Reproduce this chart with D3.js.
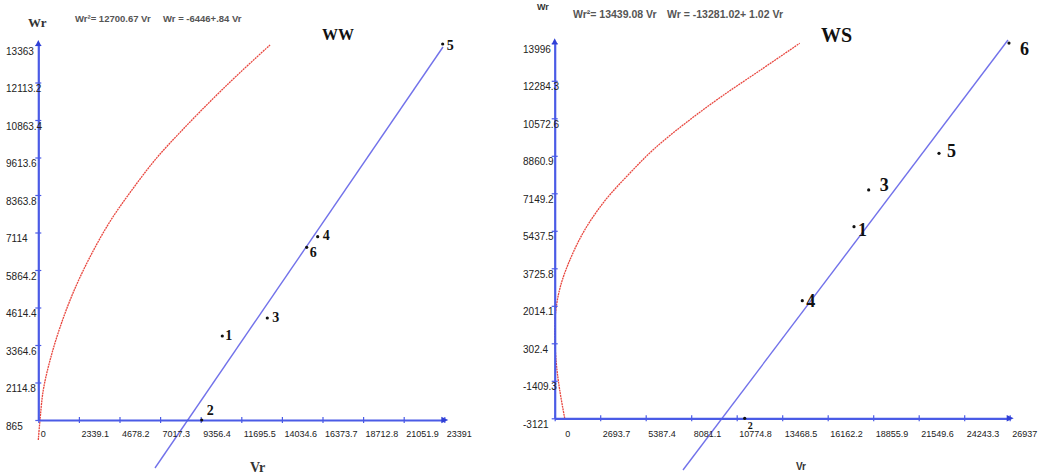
<!DOCTYPE html>
<html>
<head>
<meta charset="utf-8">
<script src="https://cdnjs.cloudflare.com/ajax/libs/d3/7.8.5/d3.min.js"></script>
<style>
    body { margin: 0; background: #fff; }
</style>
</head>
<body>
<div id="chart"></div>
<script>
// WW panel values
var wwXTicks = [0, 2339.1, 4678.2, 7017.3, 9356.4, 11695.5, 14034.6, 16373.7, 18712.8, 21051.9, 23391];
var wwYTicks = [865, 2114.8, 3364.6, 4614.4, 5864.2, 7114, 8363.8, 9613.6, 10863.4, 12113.2, 13363];
var wwPointIds = ["1", "2", "3", "4", "5", "6"];
var wwPointVr = [10601, 9414, 13193, 16097, 23298, 15463];
var wwPointWr = [3665, 865, 4264, 6974, 13396, 6621];
var wwCurve = [[0, 198], [98, 865], [288, 1865], [674, 2850], [1250, 3950], [2016, 5120], [2978, 6298],
    [4131, 7480], [5456, 8580], [6821, 9600], [8347, 10560], [9902, 11480], [11430, 12340], [13353, 13365]];
var wwFit = [[6723, -735], [23315, 13297]];
var wwEquations = ["Wr²= 12700.67 Vr", "Wr = -6446+.84 Vr"];

// WS panel values
var wsXTicks = [0, 2693.7, 5387.4, 8081.1, 10774.8, 13468.5, 16162.2, 18855.9, 21549.6, 24243.3, 26937];
var wsYTicks = [-3121, -1409.3, 302.4, 2014.1, 3725.8, 5437.5, 7149.2, 8860.9, 10572.6, 12284.3, 13996];
var wsPointIds = ["1", "2", "3", "4", "5", "6"];
var wsPointVr = [17719, 11248, 18589, 14658, 22751, 26895];
var wsPointWr = [5626, -3121, 7301, 2247, 8976, 14004];
var wsCurve = [[592, -3121], [296, -1829], [95, -611], [0, 909], [95, 1973], [391, 3041], [983, 4255],
    [1776, 5474], [2960, 6800], [4339, 7980], [5920, 9200], [7891, 10440], [9863, 11560], [12231, 12800], [14504, 13996]];
var wsFit = [[7595, -5481], [26835, 14148]];
var wsEquations = ["Wr²= 13439.08 Vr", "Wr = -13281.02+ 1.02 Vr"];

var drawPanels = (function () {
    const widthOfSvg = 1042;
    const heightOfSvg = 474;
    var axisColour = "#4a5be6";
    var fitColour = "#7272ea";
    var curveColour = "#e8473f";

    var panels = [
        {
            title: "WW", xTicks: wwXTicks, yTicks: wwYTicks, ids: wwPointIds, vr: wwPointVr, wr: wwPointWr,
            curve: wwCurve, fit: wwFit, equations: wwEquations,
            left: 38.3, right: 444.3, top: 45, bottom: 420, yLabelX: 6, xLabelDy: 17, zeroDx: 2,
            titleX: 322, titleY: 40, titleSize: 16,
            wrLabel: { x: 28, y: 27, size: 13, family: "'Liberation Serif', serif" },
            eqX: [75, 163], eqY: 22, eqSize: 9.5,
            vrLabel: { x: 250, y: 472, size: 14, family: "'Liberation Serif', serif" },
            ptSize: 14,
            offsets: { "1": [3, 4], "2": [5, -5], "3": [5, 4], "4": [5, 3], "5": [4, 6], "6": [3, 10] }
        },
        {
            title: "WS", xTicks: wsXTicks, yTicks: wsYTicks, ids: wsPointIds, vr: wsPointVr, wr: wsPointWr,
            curve: wsCurve, fit: wsFit, equations: wsEquations,
            left: 554.7, right: 1009.7, top: 43.3, bottom: 418.3, yLabelX: 523, xLabelDy: 19, zeroDx: 10,
            titleX: 821, titleY: 42, titleSize: 20,
            wrLabel: { x: 537, y: 10, size: 9, family: "'Liberation Sans', Arial, sans-serif" },
            eqX: [573, 667], eqY: 18, eqSize: 10.5,
            vrLabel: { x: 796, y: 470, size: 10, family: "'Liberation Sans', Arial, sans-serif" },
            ptSize: 18,
            offsets: { "1": [4, 9], "2": [3, 11], "3": [11, 1], "4": [4, 6], "5": [8, 4], "6": [11, 12] }
        }
    ];

    function drawPanel(svg, p) {
        var x = d3.scaleLinear()
            .domain([p.xTicks[0], p.xTicks[p.xTicks.length - 1]])
            .range([p.left, p.right]);
        var y = d3.scaleLinear()
            .domain([p.yTicks[0], p.yTicks[p.yTicks.length - 1]])
            .range([p.bottom, p.top]);

        var g = svg.append("g");

        // fitted curve, dotted red
        var line = d3.line()
            .x(function (d) { return x(d[0]) })
            .y(function (d) { return y(d[1]) })
            .curve(d3.curveCatmullRom.alpha(0.5));
        g.append("path")
            .datum(p.curve)
            .attr("d", line)
            .attr("fill", "none")
            .attr("stroke", curveColour)
            .attr("stroke-width", 1.3)
            .attr("stroke-dasharray", "2,0.7");

        // regression line
        g.append("line")
            .attr("x1", x(p.fit[0][0]))
            .attr("y1", y(p.fit[0][1]))
            .attr("x2", x(p.fit[1][0]))
            .attr("y2", y(p.fit[1][1]))
            .attr("stroke", fitColour)
            .attr("stroke-width", 1.4);

        var xAxis = g.append("g")
            .attr("transform", "translate(0," + p.bottom + ")")
            .call(d3.axisBottom(x).tickValues(p.xTicks).tickSizeOuter(0).tickSizeInner(3)
                .tickFormat(function (d) { return String(d) }));
        var yAxis = g.append("g")
            .attr("transform", "translate(" + p.left + ",0)")
            .call(d3.axisLeft(y).tickValues(p.yTicks).tickSizeOuter(0).tickSizeInner(3)
                .tickFormat(function (d) { return String(d) }));

        [xAxis, yAxis].forEach(function (a) {
            a.select(".domain").attr("stroke", axisColour).attr("stroke-width", 2.2);
            a.selectAll(".tick line").attr("stroke", axisColour).attr("stroke-width", 1.2);
            a.selectAll(".tick text")
                .attr("fill", "#222")
                .style("font-family", "'Liberation Sans', Arial, sans-serif")
                .attr("text-anchor", "start")
                .attr("dy", 0);
        });
        xAxis.selectAll(".tick line").attr("y1", -3).attr("y2", 3);
        xAxis.selectAll(".tick text")
            .style("font-size", "9px")
            .attr("x", function (d) { return d === 0 ? p.zeroDx : 2 })
            .attr("y", p.xLabelDy);
        yAxis.selectAll(".tick line").attr("x1", -3).attr("x2", 3);
        yAxis.selectAll(".tick text")
            .style("font-size", "10px")
            .attr("x", p.yLabelX - p.left)
            .attr("y", 9);

        // arrow heads
        var ax = p.right + 4, ay = p.top - 5;
        g.append("path")
            .attr("d", "M" + ax + "," + p.bottom + "L" + (ax - 7) + "," + (p.bottom - 3.2) + "L" + (ax - 7) + "," + (p.bottom + 3.2) + "Z")
            .attr("fill", "#2f3fd6");
        g.append("path")
            .attr("d", "M" + p.left + "," + ay + "L" + (p.left - 3) + "," + (ay + 6) + "L" + (p.left + 3) + "," + (ay + 6) + "Z")
            .attr("fill", "#2f3fd6");

        // data points
        var pts = p.ids.map(function (id, i) { return { id: id, vr: p.vr[i], wr: p.wr[i] } });
        g.selectAll("circle.pt")
            .data(pts)
            .enter()
            .append("circle")
            .attr("class", "pt")
            .attr("cx", function (d) { return x(d.vr) })
            .attr("cy", function (d) { return y(d.wr) })
            .attr("r", 1.6)
            .attr("fill", "#111");
        g.selectAll("text.pt")
            .data(pts)
            .enter()
            .append("text")
            .attr("class", "pt")
            .attr("x", function (d) { return x(d.vr) + p.offsets[d.id][0] })
            .attr("y", function (d) { return y(d.wr) + p.offsets[d.id][1] })
            .style("font-family", "'Liberation Serif', 'Times New Roman', serif")
            .style("font-weight", "bold")
            .style("font-size", function (d) { return (p.title === "WS" && d.id === "2" ? 10 : p.ptSize) + "px" })
            .attr("fill", "#111")
            .text(function (d) { return d.id });

        // texts
        g.append("text")
            .attr("x", p.titleX)
            .attr("y", p.titleY)
            .style("font-family", "'Liberation Serif', 'Times New Roman', serif")
            .style("font-weight", "bold")
            .style("font-size", p.titleSize + "px")
            .attr("fill", "#111")
            .text(p.title);
        [p.wrLabel, p.vrLabel].forEach(function (t, i) {
            g.append("text")
                .attr("x", t.x)
                .attr("y", t.y)
                .style("font-family", t.family)
                .style("font-weight", "bold")
                .style("font-size", t.size + "px")
                .attr("fill", "#333")
                .text(i === 0 ? "Wr" : "Vr");
        });
        g.selectAll("text.eq")
            .data(p.equations)
            .enter()
            .append("text")
            .attr("class", "eq")
            .attr("x", function (d, i) { return p.eqX[i] })
            .attr("y", p.eqY)
            .style("font-family", "'Liberation Sans', Arial, sans-serif")
            .style("font-weight", "bold")
            .style("font-size", p.eqSize + "px")
            .attr("fill", "#555")
            .text(function (d) { return d });
    }

    document.addEventListener("DOMContentLoaded", function () {
        var svg = d3.select("#chart")
            .append("svg")
            .attr("width", widthOfSvg)
            .attr("height", heightOfSvg)
            .style("display", "block");
        svg.append("rect")
            .attr("width", widthOfSvg)
            .attr("height", heightOfSvg)
            .attr("fill", "#fff");
        panels.forEach(function (p) { drawPanel(svg, p) });
    });
}());
</script>
</body>
</html>
